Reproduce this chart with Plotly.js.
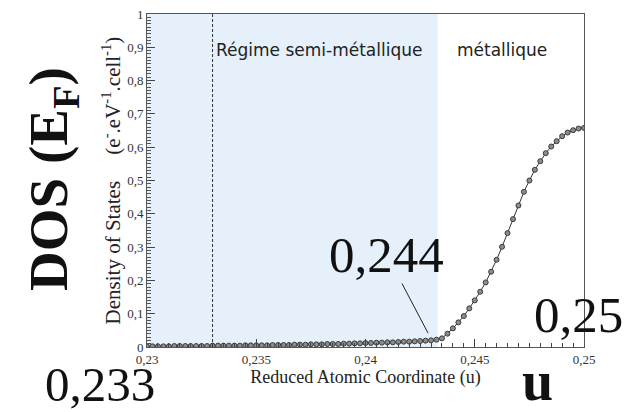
<!DOCTYPE html>
<html>
<head>
<meta charset="utf-8">
<script src="https://cdn.plot.ly/plotly-3.0.1.min.js"></script>
<style>
  html, body { margin: 0; padding: 0; background: #fff; }
  #chart { width: 636px; height: 412px; }
</style>
</head>
<body>
<div id="chart"></div>
<script>
// Reduced atomic coordinate u
const u = [
  0.23000, 0.23025, 0.23050, 0.23075, 0.23100, 0.23125, 0.23150, 0.23175, 0.23200, 0.23225,
  0.23250, 0.23275, 0.23300, 0.23325, 0.23350, 0.23375, 0.23400, 0.23425, 0.23450, 0.23475,
  0.23500, 0.23525, 0.23550, 0.23575, 0.23600, 0.23625, 0.23650, 0.23675, 0.23700, 0.23725,
  0.23750, 0.23775, 0.23800, 0.23825, 0.23850, 0.23875, 0.23900, 0.23925, 0.23950, 0.23975,
  0.24000, 0.24025, 0.24050, 0.24075, 0.24100, 0.24125, 0.24150, 0.24175, 0.24200, 0.24225,
  0.24250, 0.24275, 0.24300, 0.24325, 0.24350, 0.24375, 0.24400, 0.24425, 0.24450, 0.24475,
  0.24500, 0.24525, 0.24550, 0.24575, 0.24600, 0.24625, 0.24650, 0.24675, 0.24700, 0.24725,
  0.24750, 0.24775, 0.24800, 0.24825, 0.24850, 0.24875, 0.24900, 0.24925, 0.24950, 0.24975,
  0.25000
];

// Density of states at the Fermi level (e-.eV-1.cell-1)
const dos = [
  0.002, 0.002, 0.002, 0.002, 0.002, 0.003, 0.003, 0.003, 0.003, 0.003,
  0.003, 0.003, 0.004, 0.004, 0.004, 0.004, 0.004, 0.004, 0.005, 0.005,
  0.005, 0.005, 0.005, 0.006, 0.006, 0.006, 0.006, 0.007, 0.007, 0.007,
  0.008, 0.008, 0.008, 0.009, 0.009, 0.009, 0.010, 0.010, 0.011, 0.011,
  0.012, 0.012, 0.013, 0.013, 0.014, 0.014, 0.015, 0.016, 0.016, 0.017,
  0.018, 0.019, 0.020, 0.022, 0.026, 0.040, 0.056, 0.074, 0.093, 0.116,
  0.140, 0.166, 0.194, 0.226, 0.262, 0.301, 0.342, 0.384, 0.425, 0.466,
  0.500, 0.532, 0.558, 0.582, 0.602, 0.618, 0.633, 0.644, 0.651, 0.656,
  0.658
];

// Axis ticks (French decimal comma)
const xTickVals = [0.23, 0.235, 0.24, 0.245, 0.25];
const xTickText = ['0,23', '0,235', '0,24', '0,245', '0,25'];
const yTickVals = [0, 0.1, 0.2, 0.3, 0.4, 0.5, 0.6, 0.7, 0.8, 0.9, 1];
const yTickText = ['0', '0,1', '0,2', '0,3', '0,4', '0,5', '0,6', '0,7', '0,8', '0,9', '1'];

// Regime boundaries
const uStart = 0.23;
const uSemiMetal = 0.233;
const uMetal = 0.2433;
const uOnset = 0.24286;
const dosOnset = 0.042;

const serif = 'Liberation Serif, Times New Roman, serif';
const sans = 'DejaVu Sans, sans-serif';
const gap = '\u00A0\u00A0\u00A0\u00A0\u00A0';

const trace = {
  x: u,
  y: dos,
  type: 'scatter',
  mode: 'lines+markers',
  line: { color: '#333333', width: 1 },
  marker: { size: 5, color: '#8c8c8c', line: { color: '#3a3a3a', width: 1 } },
  hoverinfo: 'skip'
};

const layout = {
  width: 636,
  height: 412,
  margin: { l: 147, r: 52, t: 14, b: 65 },
  paper_bgcolor: '#ffffff',
  plot_bgcolor: '#ffffff',
  showlegend: false,
  font: { family: serif, color: '#333333' },
  xaxis: {
    range: [0.23, 0.25],
    tickvals: xTickVals,
    ticktext: xTickText,
    ticks: 'inside',
    ticklen: 8,
    tickwidth: 1,
    tickcolor: '#444',
    minor: { dtick: 0.0005, ticks: 'inside', ticklen: 4, tickcolor: '#444' },
    showline: true,
    linecolor: '#555',
    linewidth: 1,
    mirror: true,
    showgrid: false,
    zeroline: false,
    tickfont: { family: serif, size: 13, color: '#333' },
    title: {
      text: 'Reduced Atomic Coordinate (u)',
      font: { family: serif, size: 18, color: '#222' },
      standoff: 0
    }
  },
  yaxis: {
    range: [0, 1],
    tickvals: yTickVals,
    ticktext: yTickText,
    ticks: 'inside',
    ticklen: 8,
    tickwidth: 1,
    tickcolor: '#444',
    minor: { dtick: 0.01, ticks: 'inside', ticklen: 4, tickcolor: '#555' },
    showline: true,
    linecolor: '#555',
    linewidth: 1,
    mirror: true,
    showgrid: false,
    zeroline: false,
    tickfont: { family: serif, size: 13, color: '#333' },
    title: {
      text: 'Density of States' + gap + '(e<sup>-</sup>.eV<sup>-1</sup>.cell<sup>-1</sup>)',
      font: { family: serif, size: 21, color: '#222' },
      standoff: 0
    }
  },
  shapes: [
    {
      type: 'rect', xref: 'x', yref: 'y', layer: 'below',
      x0: uStart, x1: uMetal, y0: 0, y1: 1,
      fillcolor: 'rgb(229,240,251)', line: { width: 0 }
    },
    {
      type: 'line', xref: 'x', yref: 'y', layer: 'above',
      x0: uSemiMetal, x1: uSemiMetal, y0: 0, y1: 1,
      line: { color: '#333', width: 1, dash: '3px,2px' }
    }
  ],
  annotations: [
    {
      text: 'Régime semi-métallique', xref: 'x', yref: 'paper',
      x: uSemiMetal, y: 0.892, xanchor: 'left', yanchor: 'middle', xshift: 1,
      showarrow: false, font: { family: sans, size: 17, color: '#222' }
    },
    {
      text: 'métallique', xref: 'x', yref: 'paper',
      x: uMetal, y: 0.892, xanchor: 'left', yanchor: 'middle', xshift: 17,
      showarrow: false, font: { family: sans, size: 17, color: '#222' }
    },
    {
      text: '0,244', xref: 'x', yref: 'y', x: uOnset, y: dosOnset,
      showarrow: true, arrowhead: 0, arrowwidth: 1, arrowcolor: '#222',
      ax: -41, ay: -78, font: { family: serif, size: 51, color: '#111' },
      borderpad: 0
    },
    {
      text: '0,25', xref: 'paper', yref: 'paper', x: 1.0, y: 0.095,
      xanchor: 'center', yanchor: 'middle', xshift: -6,
      showarrow: false, font: { family: serif, size: 51, color: '#111' }
    },
    {
      text: '0,233', xref: 'paper', yref: 'paper', x: -0.108, y: -0.197,
      xanchor: 'center', yanchor: 'bottom',
      showarrow: false, font: { family: serif, size: 49, color: '#111' },
      borderpad: 0
    },
    {
      text: '<b>u</b>', xref: 'paper', yref: 'paper', x: 0.894, y: -0.197,
      xanchor: 'center', yanchor: 'bottom',
      showarrow: false, font: { family: serif, size: 56, color: '#111' },
      borderpad: 0
    },
    {
      text: '<b>DOS (E<sub>F</sub>)</b>', xref: 'paper', yref: 'paper', x: -0.215, y: 0.505,
      xanchor: 'center', yanchor: 'middle', textangle: -90,
      showarrow: false, font: { family: serif, size: 55, color: '#111' }
    }
  ]
};

Plotly.newPlot('chart', [trace], layout, { displayModeBar: false, staticPlot: true });
</script>
</body>
</html>
